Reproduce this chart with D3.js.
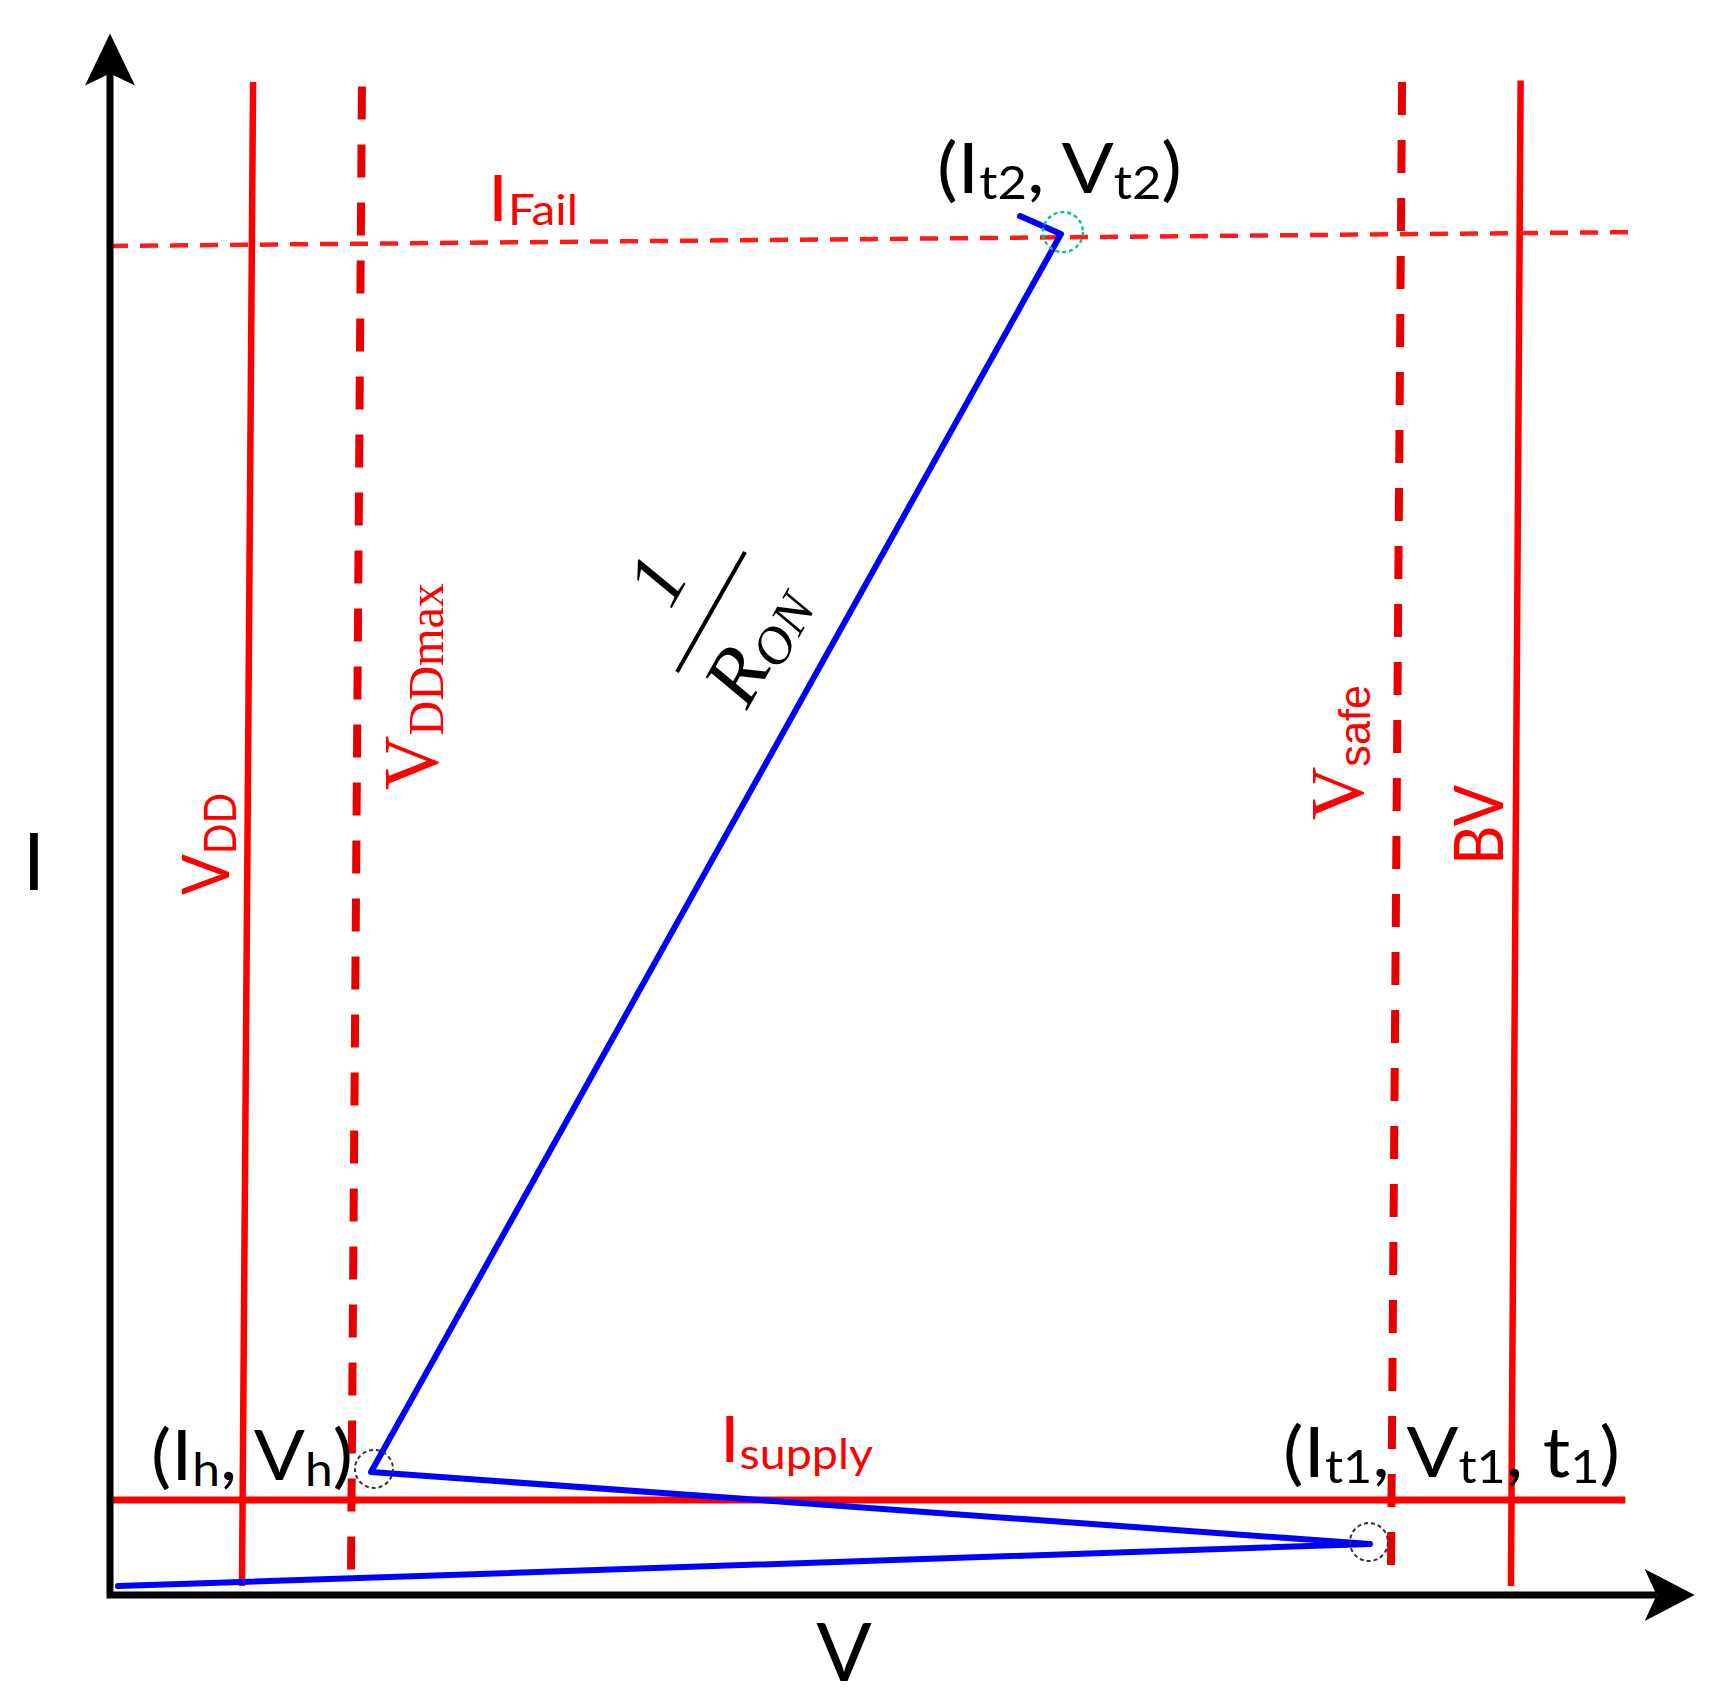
<!DOCTYPE html>
<html><head><meta charset="utf-8">
<script src="https://cdn.jsdelivr.net/npm/d3@7"></script>
<style>
html,body{margin:0;padding:0;background:#fff;}
svg{display:block;}
</style></head><body>
<svg id="chart" width="1719" height="1708"></svg>
<script>
// ---------- data (V and I in arbitrary schematic units, 0..100) ----------
const axisEnds = [102.9, 103.2];               // [V end of x-axis arrow, I end of y-axis arrow]
const vLineNames   = ["VDD", "VDDmax", "Vsafe", "BV"];
const vLineTopV    = [9.29, 16.36, 83.9, 91.6];
const vLineBottomV = [8.57, 15.65, 83.18, 90.97];
const vLineTopI    = [100, 99.7, 100, 100.1];
const vLineBottomI = [0.6, 1.65, 1.65, 0.6];
const hLineNames   = ["IFail", "Isupply"];
const hLineStartV  = [0, 0.2];
const hLineEndV    = [98.9, 98.4];
const hLineStartI  = [89.16, 6.28];
const hLineEndI    = [90.08, 6.28];
const curveV = [0.52, 81.82, 16.95, 61.75, 59.09];
const curveI = [0.59, 3.37, 8.13, 89.95, 91.14];
const markNames = ["hold", "t1", "t2"];
const markV = [17.14, 81.75, 61.88];
const markI = [8.33, 3.5, 90.08];
const axisLabels = ["V", "I"];
const pointLabels = [
  [["(I",0],["h",1],[", V",0],["h",1],[")",0]],
  [["(I",0],["t1",1],[", V",0],["t1",1],[", t",0],["1",1],[")",0]],
  [["(I",0],["t2",1],[", V",0],["t2",1],[")",0]]
];
const hLineLabels = [ [["I",0],["Fail",1]], [["I",0],["supply",1]] ];
const vLineLabels = [ [["V",0],["DD",1]], [["V",0],["DDmax",1]], [["V",0],["safe",1]], [["BV",0]] ];
const slopeLabel = ["1", "R", "ON"];

// ---------- scales ----------
const x = d3.scaleLinear().domain([0, 100]).range([110, 1650]);
const y = d3.scaleLinear().domain([0, 100]).range([1595, 82]);

const svg = d3.select("#chart");
const SANS = "Lato, 'Open Sans', sans-serif";
const SERIF = "'Liberation Serif', 'DejaVu Serif', serif";
const SANS2 = "'Liberation Sans', Arial, sans-serif";

// ---------- reference lines ----------
const vStyles = {
  VDD:    {stroke:"#ff0000", w:6.5, dash:null},
  VDDmax: {stroke:"#e60000", w:8, dash:"33,25"},
  Vsafe:  {stroke:"#e60000", w:8, dash:"33,25"},
  BV:     {stroke:"#ff0000", w:6.5, dash:null}
};
vLineNames.forEach((n, k) => {
  const s = vStyles[n];
  svg.append("line")
    .attr("x1", x(vLineTopV[k])).attr("y1", y(vLineTopI[k]))
    .attr("x2", x(vLineBottomV[k])).attr("y2", y(vLineBottomI[k]))
    .attr("stroke", s.stroke).attr("stroke-width", s.w)
    .attr("stroke-dasharray", s.dash);
});
const hStyles = {
  IFail:   {stroke:"#ff1a1a", w:4.5, dash:"18,12"},
  Isupply: {stroke:"#ff0000", w:7, dash:null}
};
hLineNames.forEach((n, k) => {
  const s = hStyles[n];
  svg.append("line")
    .attr("x1", x(hLineStartV[k])).attr("y1", y(hLineStartI[k]))
    .attr("x2", x(hLineEndV[k])).attr("y2", y(hLineEndI[k]))
    .attr("stroke", s.stroke).attr("stroke-width", s.w)
    .attr("stroke-dasharray", s.dash);
});

// ---------- axes with arrows ----------
const x0 = x(0), y0 = y(0);
const xEnd = x(axisEnds[0]), yEnd = y(axisEnds[1]);
svg.append("path")
  .attr("d", `M${x0},${yEnd + 38} L${x0},${y0} L${xEnd - 38},${y0}`)
  .attr("fill", "none").attr("stroke", "#000").attr("stroke-width", 7)
  .attr("stroke-linejoin", "miter");
svg.append("path")
  .attr("d", `M${x0},${yEnd} L${x0 + 25},${yEnd + 52} L${x0},${yEnd + 40} L${x0 - 25},${yEnd + 52} Z`)
  .attr("fill", "#000");
svg.append("path")
  .attr("d", `M${xEnd},${y0} L${xEnd - 50},${y0 - 26} L${xEnd - 38},${y0} L${xEnd - 50},${y0 + 26} Z`)
  .attr("fill", "#000");

// ---------- device curve ----------
const line = d3.line().x((d, k) => x(curveV[k])).y((d, k) => y(curveI[k]));
svg.append("path")
  .attr("d", line(curveV))
  .attr("fill", "none").attr("stroke", "#0000ff").attr("stroke-width", 6)
  .attr("stroke-linejoin", "round").attr("stroke-linecap", "round");

// ---------- marker circles ----------
const markStyle = {
  hold: {r:19, c:"#333", w:2},
  t1:   {r:19, c:"#333", w:2},
  t2:   {r:20, c:"#00c88c", w:2.4}
};
markNames.forEach((n, k) => {
  const s = markStyle[n];
  svg.append("circle")
    .attr("cx", x(markV[k])).attr("cy", y(markI[k])).attr("r", s.r)
    .attr("fill", "none").attr("stroke", s.c).attr("stroke-width", s.w)
    .attr("stroke-dasharray", "4,3");
});

// ---------- text helper ----------
function addText(parent, segs, o) {
  const t = parent.append("text")
    .attr("x", o.x || 0).attr("y", o.y || 0)
    .attr("fill", o.fill || "#000")
    .attr("font-family", o.font)
    .attr("font-size", o.size)
    .attr("text-anchor", o.anchor || "start");
  if (o.style) t.attr("font-style", o.style);
  if (o.len) t.attr("textLength", o.len).attr("lengthAdjust", "spacingAndGlyphs");
  let shifted = 0;
  segs.forEach(([txt, sub]) => {
    const ts = t.append("tspan").text(txt);
    if (sub) {
      ts.attr("font-size", o.subSize).attr("dy", o.subDy - shifted);
      if (o.subFont) ts.attr("font-family", o.subFont);
      shifted = o.subDy;
    } else {
      ts.attr("dy", -shifted);
      shifted = 0;
    }
  });
  return t;
}

// axis labels
addText(svg, [[axisLabels[0],0]], {x:844, y:1681, font:SANS, size:82, anchor:"middle"});
addText(svg, [[axisLabels[1],0]], {x:34, y:890, font:SANS, size:80, anchor:"middle"});

// point labels
addText(svg, pointLabels[0], {x:151, y:1480, font:SANS, size:70, subSize:46, subDy:6, len:202});
addText(svg, pointLabels[1], {x:1283, y:1477, font:SANS, size:70, subSize:46, subDy:6, len:337});
addText(svg, pointLabels[2], {x:937, y:193, font:SANS, size:70, subSize:46, subDy:6, len:245});

// horizontal line labels
addText(svg, hLineLabels[0], {x:488, y:221, font:SANS, size:63, subSize:42, subDy:4, len:90, fill:"#ff0000"});
addText(svg, hLineLabels[1], {x:720, y:1462, font:SANS, size:63, subSize:42, subDy:7, len:153, fill:"#ff0000"});

// vertical line labels (rotated)
const vLab = [
  {tx:229, ty:895, font:SANS, size:66, subSize:44, subDy:7, len:102},
  {tx:437, ty:790, font:SERIF, size:78, subSize:50, subDy:6, len:207},
  {tx:1363, ty:820, font:SERIF, size:77, subSize:45, subDy:7, len:135, subFont:SANS2},
  {tx:1503, ty:865, font:SANS, size:67, len:80}
];
vLab.forEach((o, k) => {
  const g = svg.append("g").attr("transform", `translate(${o.tx},${o.ty}) rotate(-90)`);
  addText(g, vLineLabels[k], Object.assign({fill:"#ff0000"}, o));
});

// slope label 1/R_ON, aligned with the on-resistance segment
const angle = Math.atan2(y(curveI[3]) - y(curveI[2]), x(curveV[3]) - x(curveV[2])) * 180 / Math.PI;
const fg = svg.append("g").attr("transform", `translate(711,612) rotate(${angle + 0.4})`);
addText(fg, [[slopeLabel[0],0]], {x:1, y:-36, font:SERIF, size:80, style:"italic", anchor:"middle"});
fg.append("line").attr("x1", -69).attr("x2", 69).attr("y1", 0).attr("y2", 0)
  .attr("stroke", "#000").attr("stroke-width", 4);
addText(fg, [[slopeLabel[1],0],[slopeLabel[2],1]], {x:-68, y:80, font:SERIF, size:80, style:"italic", subSize:52, subDy:9, len:125});
</script>
</body></html>
